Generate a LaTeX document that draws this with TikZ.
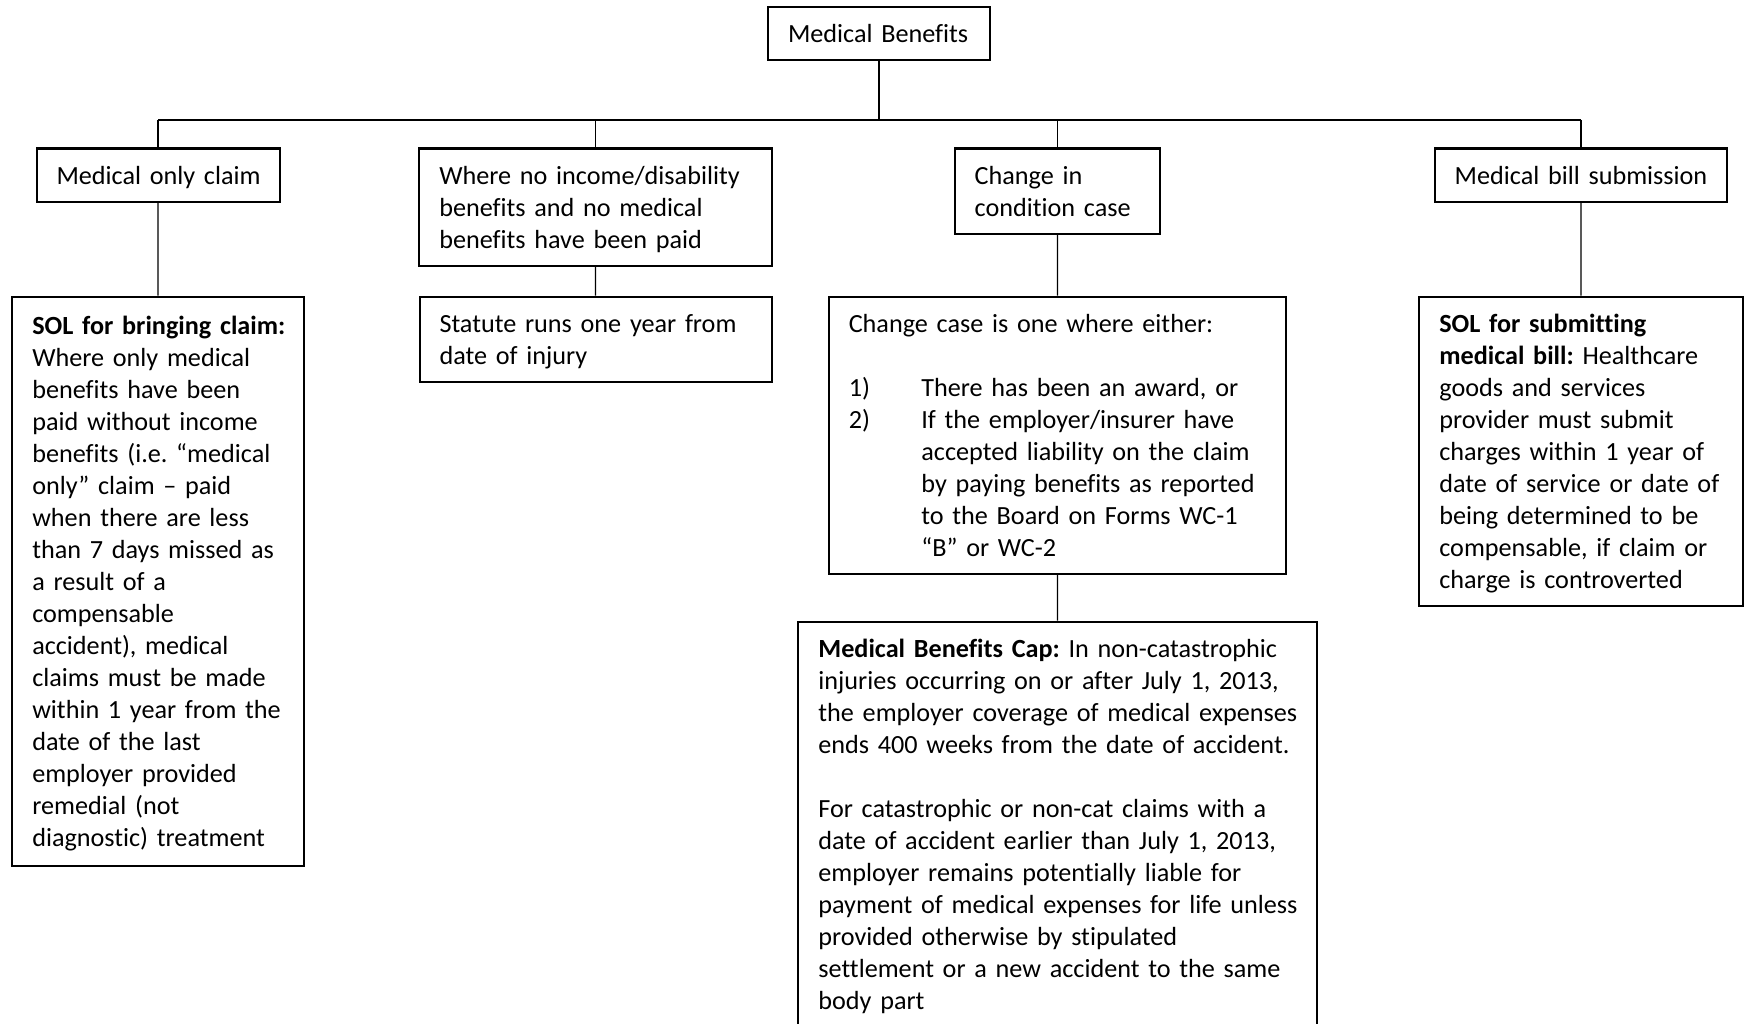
\documentclass[tikz,border=0pt]{standalone}
\usepackage{fontspec}
\setmainfont{Carlito}[Ligatures=NoCommon]
\usepackage{tikz}

\newcommand{\lnst}{\rule[-2.74pt]{0pt}{13.44pt}}
\newcommand{\hang}{\hspace*{30.5pt}}
\newcommand{\tl}[1]{\mbox{#1}}
\frenchspacing
\hbadness=10000 \hfuzz=20pt

\begin{document}
\begin{tikzpicture}[x=0.42pt, y=-0.42pt, every node/.style={font=\fontsize{11}{13.44}\selectfont}]
  \tikzstyle{box}=[rectangle,draw,line width=0.85pt,anchor=north west,align=left,inner xsep=8.4pt,inner ysep=4.41pt]
  \tikzstyle{link}=[line width=0.6pt]
  \useasboundingbox (0,0) rectangle (1745,1024);

  \node[box,text width=76.44pt] (top) at (767,6) {\lnst\tl{Medical Benefits}\lnst};

  % first row
  \node[box,text width=85.26pt] (medonly) at (35.5,147.5) {\lnst\tl{Medical only claim}\lnst};
  \node[box,text width=131.25pt] (noincome) at (418.25,147.5) {\lnst\tl{Where no income/disability}\\ \tl{benefits and no medical}\\ \tl{benefits have been paid}\lnst};
  \node[box,text width=69.55pt] (change) at (953.7,147.5) {\lnst\tl{Change in}\\ \tl{condition case}\lnst};
  \node[box,text width=106.09pt] (bill) at (1433.7,147.5) {\lnst\tl{Medical bill submission}\lnst};

  % second row
  \node[box,text width=105.63pt,minimum height=239.2pt] (solclaim) at (11.25,295.5) {\lnst\tl{\textbf{SOL for bringing claim:}}\\ \tl{Where only medical}\\ \tl{benefits have been}\\ \tl{paid without income}\\ \tl{benefits (i.e. “medical}\\ \tl{only” claim – paid}\\ \tl{when there are less}\\ \tl{than 7 days missed as}\\ \tl{a result of a}\\ \tl{compensable}\\ \tl{accident), medical}\\ \tl{claims must be made}\\ \tl{within 1 year from the}\\ \tl{date of the last}\\ \tl{employer provided}\\ \tl{remedial (not}\\ \tl{diagnostic) treatment}\lnst};
  \node[box,text width=131.04pt] (statute) at (418.5,295.5) {\lnst\tl{Statute runs one year from}\\ \tl{date of injury}\lnst};
  \node[box,text width=175.35pt] (changecase) at (827.75,295.5) {\lnst\tl{Change case is one where either:}\\[13.44pt]
    \tl{\makebox[30.5pt][l]{1)}There has been an award, or}\\
    \tl{\makebox[30.5pt][l]{2)}If the employer/insurer have}\\
    \tl{\hang accepted liability on the claim}\\
    \tl{\hang by paying benefits as reported}\\
    \tl{\hang to the Board on Forms WC-1}\\
    \tl{\hang “B” or WC-2}\lnst};
  \node[box,text width=119.03pt] (solbill) at (1418.3,295.5) {\lnst\tl{\textbf{SOL for submitting}}\\ \tl{\textbf{medical bill:} Healthcare}\\ \tl{goods and services}\\ \tl{provider must submit}\\ \tl{charges within 1 year of}\\ \tl{date of service or date of}\\ \tl{being determined to be}\\ \tl{compensable, if claim or}\\ \tl{charge is controverted}\lnst};

  % third row
  \node[box,text width=200.84pt] (cap) at (797.4,620.5) {\lnst\tl{\textbf{Medical Benefits Cap:} In non-catastrophic}\\ \tl{injuries occurring on or after July 1, 2013,}\\ \tl{the employer coverage of medical expenses}\\ \tl{ends 400 weeks from the date of accident.}\\[13.44pt]
    \tl{For catastrophic or non-cat claims with a}\\ \tl{date of accident earlier than July 1, 2013,}\\ \tl{employer remains potentially liable for}\\ \tl{payment of medical expenses for life unless}\\ \tl{provided otherwise by stipulated}\\ \tl{settlement or a new accident to the same}\\ \tl{body part}\lnst};

  \coordinate (bus) at (878,120);
  \draw[link] (top.south) -- (top.south |- bus);
  \draw[line width=0.85pt] (medonly.north |- bus) -- (bill.north |- bus);
  \foreach \n in {medonly,noincome,change,bill}
    \draw[link] (\n.north |- bus) -- (\n.north);
  \foreach \a/\b in {medonly/solclaim,noincome/statute,change/changecase,bill/solbill,changecase/cap}
    \draw[link] (\a.south) -- (\b.north);
\end{tikzpicture}
\end{document}
